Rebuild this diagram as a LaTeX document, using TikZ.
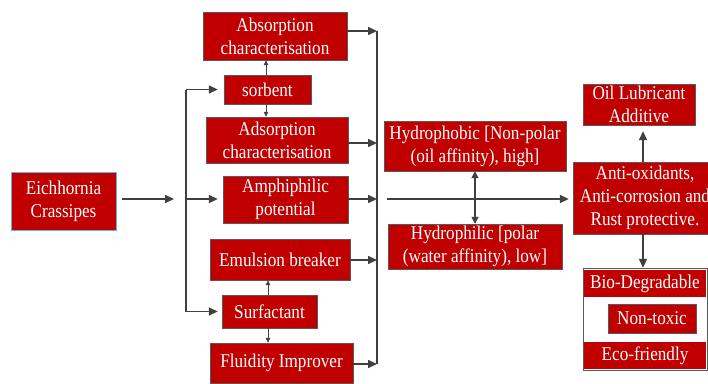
\documentclass[tikz,border=0pt]{standalone}
\usepackage{fontspec}
\setmainfont{Liberation Serif}[FakeStretch=0.88]
\usetikzlibrary{arrows.meta, positioning, calc}
\definecolor{boxred}{HTML}{C00000}
\definecolor{linegray}{HTML}{404040}
\definecolor{edgegray}{HTML}{595959}
\definecolor{eichblue}{HTML}{5CB8E6}

\begin{document}
\begin{tikzpicture}[x=1pt, y=-1pt,
    redbox/.style={rectangle, draw=edgegray, fill=boxred, text=white,
                   inner sep=0pt, align=center,
                   font=\fontsize{19.5}{23}\selectfont},
    busline/.style={linegray, line width=1.6pt},
    arrow/.style={busline, -{Triangle[length=9pt, width=8pt]}},
    dblarrow/.style={busline, {Triangle[length=7pt, width=7pt]}-{Triangle[length=7pt, width=7pt]}},
    thinarrow/.style={linegray, line width=0.8pt, -{Triangle[length=5pt, width=4.5pt]}}
]
\useasboundingbox (0,0) rectangle (708,383);

% Source
\node[redbox, draw=eichblue, minimum width=105pt, minimum height=58pt] (eich) at (63.5,201) {Eichhornia\\Crassipes};

% Middle column
\node[redbox, minimum width=144pt, minimum height=48pt] (absorp) at (275,36) {Absorption\\characterisation};
\node[redbox, minimum width=87pt,  minimum height=29pt] (sorbent) at (267.5,89.5) {sorbent};
\node[redbox, minimum width=142pt, minimum height=46pt] (adsorp) at (277,140) {Adsorption\\characterisation};
\node[redbox, minimum width=125pt, minimum height=47pt] (amphi) at (285.5,199.5) {Amphiphilic\\potential};
\node[redbox, minimum width=140pt, minimum height=41pt] (emul) at (280,259.5) {Emulsion breaker};
\node[redbox, minimum width=95pt,  minimum height=33pt] (surf) at (269.5,311.5) {Surfactant};
\node[redbox, minimum width=143pt, minimum height=40pt] (fluid) at (281.5,363) {Fluidity Improver};

% Polarity
\node[redbox, minimum width=182pt, minimum height=50pt] (hphob) at (475,146) {Hydrophobic [Non-polar\\(oil affinity), high]};
\node[redbox, minimum width=174pt, minimum height=45pt] (hphil) at (475,246.5) {Hydrophilic [polar\\(water affinity), low]};

% Right column
\node[redbox, minimum width=144pt, minimum height=72pt] (antiox) at (645,198) {Anti-oxidants,\\Anti-corrosion and\\Rust protective.};
\node[redbox, minimum width=112pt, minimum height=41pt] (oillub) at (639,104.5) {Oil Lubricant\\Additive};
\node[rectangle, draw=edgegray, fill=white, minimum width=124pt, minimum height=102pt] (greenbox) at (645,319) {};
\node[redbox, draw=none, minimum width=122pt, minimum height=27pt] (biodeg) at (645,283.5) {Bio-Degradable};
\node[redbox, minimum width=88pt,  minimum height=29pt] (nontox) at (652,318.5) {Non-toxic};
\node[redbox, draw=none, minimum width=122pt, minimum height=27pt] (ecofr) at (645,355.5) {Eco-friendly};

% Fork on the left
\coordinate (fork) at (186,199);
\draw[arrow, shorten <=6pt, shorten >=12pt] (eich.east |- fork) -- (fork);
\draw[busline] (fork |- sorbent) -- (fork |- surf);
\draw[arrow, shorten >=6pt] (fork |- sorbent) -- (sorbent.west);
\draw[arrow, shorten >=5pt] (fork) -- (fork -| amphi.west);
\draw[arrow, shorten >=4pt] (fork |- surf) -- (surf.west);

% Small links
\draw[thinarrow] (sorbent.north -| 266,0) -- (absorp.south -| 266,0);
\draw[thinarrow] (sorbent.south -| 266,0) -- (adsorp.north -| 266,0);
\draw[thinarrow] (surf.north -| 268,0) -- (emul.south -| 268,0);
\draw[thinarrow] (surf.south -| 268,0) -- (fluid.north -| 268,0);

% Bus on the right
\coordinate (bus) at (377,199);
\draw[busline] (bus |- 0,31) -- (bus |- 0,364);
\draw[arrow] (absorp.east |- 0,31) -- (bus |- 0,31);
\draw[arrow] (adsorp.east |- 0,143) -- (bus |- 0,143);
\draw[arrow] (amphi.east |- bus) -- (bus);
\draw[arrow] (emul.east |- 0,260) -- (bus |- 0,260);
\draw[arrow] (fluid.east |- 0,364) -- (bus |- 0,364);

% To the properties
\draw[arrow, shorten <=10pt, shorten >=4pt] (bus) -- (antiox.west |- bus);
\draw[dblarrow] (hphob.south) -- (hphil.north);
\draw[arrow, shorten >=6pt] (antiox.north -| 643,0) -- (oillub.south -| 643,0);
\draw[arrow] (antiox.south -| 643,0) -- (greenbox.north -| 643,0);

\end{tikzpicture}
\end{document}
